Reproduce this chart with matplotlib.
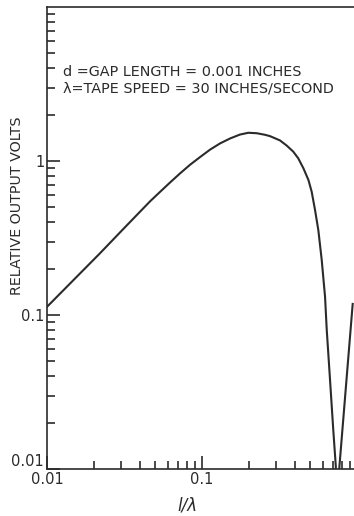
import matplotlib
matplotlib.use('Agg')
import matplotlib.pyplot as plt
from matplotlib.ticker import FixedLocator, FixedFormatter, LogLocator, NullFormatter

# Relative output vs 1/wavelength
inv_wavelength = [0.0100, 0.0220, 0.0319, 0.0463, 0.0536, 0.0622, 0.0721, 0.0837,
                  0.0971, 0.1127, 0.1306, 0.1516, 0.1758, 0.199, 0.2255, 0.2548,
                  0.2748, 0.3186, 0.3517, 0.388, 0.418, 0.451, 0.486, 0.510,
                  0.536, 0.563, 0.592, 0.622, 0.638, 0.670, 0.703, 0.730,
                  0.748, 0.769, 0.849, 0.938]
rel_volts = [0.113, 0.252, 0.372, 0.548, 0.630, 0.725, 0.830, 0.945,
             1.060, 1.185, 1.300, 1.400, 1.485, 1.525, 1.515, 1.480,
             1.450, 1.360, 1.260, 1.150, 1.040, 0.897, 0.753, 0.632,
             0.481, 0.356, 0.228, 0.1315, 0.080, 0.0378, 0.0179, 0.0104,
             0.003, 0.0102, 0.0346, 0.118]

x_ticks = [0.01, 0.1, 1]
x_tick_labels = ['0.01', '0.1', '1']
y_ticks = [0.01, 0.1, 1]
y_tick_labels = ['0.01', '0.1', '1']

ink = '#2b2b2b'
plt.rcParams['font.family'] = ['DejaVu Sans']

fig = plt.figure(figsize=(3.54, 5.16), dpi=100)
W, H = 354, 516
# axes runs past the right edge of the picture (reference is cropped there)
ax = fig.add_axes([47 / W, (H - 469) / H, 310 / W, 462 / H])

ax.plot(inv_wavelength, rel_volts, color=ink, lw=1.5, solid_joinstyle='round')

ax.set_xscale('log')
ax.set_yscale('log')
ax.set_xlim(0.01, 1)
ax.set_ylim(0.01, 10)

ax.xaxis.set_major_locator(FixedLocator(x_ticks))
ax.xaxis.set_major_formatter(FixedFormatter(x_tick_labels))
ax.yaxis.set_major_locator(FixedLocator(y_ticks))
ax.yaxis.set_major_formatter(FixedFormatter(y_tick_labels))
ax.xaxis.set_minor_locator(LogLocator(base=10, subs=range(2, 10)))
ax.yaxis.set_minor_locator(LogLocator(base=10, subs=range(2, 10)))
ax.xaxis.set_minor_formatter(NullFormatter())
ax.yaxis.set_minor_formatter(NullFormatter())

ax.tick_params(which='both', direction='in', colors=ink, width=1.2,
               top=False, right=False, labelsize=10.5, pad=2)
ax.tick_params(which='major', length=9.5)
ax.tick_params(which='minor', length=5.5)
# lift the lowest y label so it clears the x label below it
ax.get_yticklabels()[0].set_va('bottom')

for side in ['left', 'bottom', 'top']:
    ax.spines[side].set_color(ink)
    ax.spines[side].set_linewidth(1.2)
ax.spines['right'].set_visible(False)

ax.text(63 / W, (H - 72) / H, 'd =GAP LENGTH = 0.001 INCHES',
        transform=fig.transFigure, fontsize=10.4, color=ink, va='center', ha='left')
ax.text(63 / W, (H - 88) / H, '\u03bb=TAPE SPEED = 30 INCHES/SECOND',
        transform=fig.transFigure, fontsize=10.4, color=ink, va='center', ha='left')

fig.text(17 / W, (H - 206) / H, 'RELATIVE OUTPUT VOLTS', rotation=90,
         fontsize=10.3, color=ink, ha='center', va='center')
fig.text(187 / W, (H - 505) / H, 'l/\u03bb', fontsize=12, color=ink,
         ha='center', va='center', style='italic')

fig.savefig('out.png', dpi=100)
